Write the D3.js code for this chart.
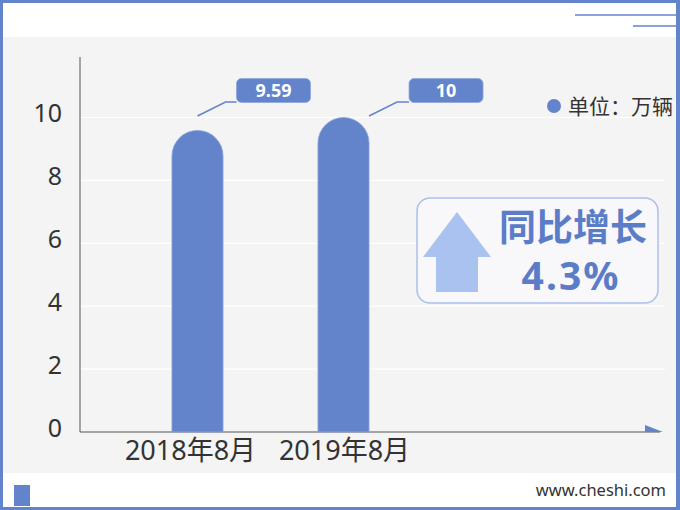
<!DOCTYPE html>
<html><head><meta charset="utf-8">
<script src="https://cdn.jsdelivr.net/npm/d3@7"></script>
<style>html,body{margin:0;padding:0;background:#fff;}svg{display:block;}</style>
</head><body>
<svg id="c" width="680" height="510"></svg>
<script>
const categories = ["2018年8月", "2019年8月"];
const values = [9.59, 10];
const valueLabels = ["9.59", "10"];
const yTicks = [0, 2, 4, 6, 8, 10];
const unitText = "单位：万辆";
const growthTitle = "同比增长";
const growthValue = "4.3%";
const footerText = "www.cheshi.com";

// callout layout (offset of leader start from bar left edge, box offset from leader start)
const calloutLayout = [{sx: 0.5, box: 39}, {sx: 1.0, box: 40}];
// x label horizontal nudges
const xLabelShift = [-7, 1];

const svg = d3.select("#c");
const blue = "#6383cb";
const fontNum = "'Noto Sans','Noto Sans CJK SC',sans-serif";

// frame
svg.append("rect").attr("x",0).attr("y",0).attr("width",680).attr("height",510).attr("fill",blue);
svg.append("rect").attr("x",3).attr("y",3).attr("width",673).attr("height",504).attr("fill","#fff");
svg.append("rect").attr("x",3).attr("y",37).attr("width",673).attr("height",436).attr("fill","#f4f4f4");
svg.append("line").attr("x1",575).attr("x2",677).attr("y1",15).attr("y2",15).attr("stroke",blue).attr("stroke-width",1.5);
svg.append("line").attr("x1",633).attr("x2",677).attr("y1",26).attr("y2",26).attr("stroke",blue).attr("stroke-width",1.5);
svg.append("rect").attr("x",14).attr("y",485).attr("width",16).attr("height",21).attr("fill",blue);
svg.append("text").attr("x",666).attr("y",496).attr("text-anchor","end")
  .attr("font-family",fontNum).attr("font-size",16.5).attr("fill","#333").text(footerText);

// scales
const y = d3.scaleLinear().domain([0,10]).range([432,117.5]);
const x = d3.scaleBand().domain(categories).range([80,461]).paddingInner(0.65).paddingOuter(0.63);

// gridlines
svg.append("g").selectAll("line").data(yTicks.filter(d=>d>0)).join("line")
  .attr("x1",81).attr("x2",665).attr("y1",d=>y(d)).attr("y2",d=>y(d))
  .attr("stroke","#ffffff").attr("stroke-width",1.2);

// y axis labels
const yAxis = d3.axisLeft(y).tickValues(yTicks).tickSize(0).tickPadding(0).tickFormat(d3.format("d"));
const gy = svg.append("g").attr("transform","translate(62,-4)").call(yAxis);
gy.select(".domain").remove();
gy.selectAll("text").attr("font-family",fontNum).attr("font-size",25).attr("fill","#333");

// axis lines
svg.append("line").attr("x1",80).attr("x2",80).attr("y1",57).attr("y2",432).attr("stroke","#555").attr("stroke-width",1);
svg.append("line").attr("x1",80).attr("x2",660).attr("y1",432).attr("y2",432).attr("stroke","#555").attr("stroke-width",1);
svg.append("path").attr("d","M645,425 L663,432 L645,432 Z").attr("fill",blue);

// bars with rounded tops
const data = categories.map((c,i)=>({c, v:values[i], l:valueLabels[i], lay:calloutLayout[i]}));
const bw = x.bandwidth();
svg.append("g").selectAll("path").data(data).join("path")
  .attr("d", d => {
    const x0 = x(d.c), x1 = x0 + bw, top = y(d.v), bot = y(0), r = bw/2;
    return `M${x0},${bot} L${x0},${top+r} A${r},${r} 0 0 1 ${x1},${top+r} L${x1},${bot} Z`;
  })
  .attr("fill", blue).attr("stroke","#8fa6dc").attr("stroke-width",0.8);

// x labels
const xAxis = d3.axisBottom(x).tickSize(0).tickPadding(0);
const gx = svg.append("g").attr("transform","translate(0,441)").call(xAxis);
gx.select(".domain").remove();
gx.selectAll("text").attr("font-family",fontNum).attr("font-size",27).attr("fill","#333").attr("dy","0.71em")
  .attr("dx",(d,i)=>xLabelShift[i]);

// value label callouts
const lbl = svg.append("g").selectAll("g").data(data).join("g");
const sx = d => x(d.c) + bw * d.lay.sx;
lbl.append("polyline")
  .attr("points", d => `${sx(d)},116 ${sx(d)+28},102 ${sx(d)+d.lay.box},102`)
  .attr("fill","none").attr("stroke",blue).attr("stroke-width",1.5);
lbl.append("rect")
  .attr("x", d => sx(d) + d.lay.box).attr("y", 78.5)
  .attr("width",74).attr("height",24).attr("rx",5)
  .attr("fill",blue).attr("stroke","#8fa6dc").attr("stroke-width",0.8);
lbl.append("text")
  .attr("x", d => sx(d) + d.lay.box + 37).attr("y", 90.5)
  .attr("dy","0.36em").attr("text-anchor","middle")
  .attr("font-family",fontNum).attr("font-weight","bold").attr("font-size",18).attr("fill","#fff")
  .text(d=>d.l);

// legend
svg.append("circle").attr("cx",554).attr("cy",106).attr("r",7).attr("fill",blue);
svg.append("text").attr("x",568).attr("y",106).attr("dy","0.36em")
  .attr("font-family","'Noto Sans CJK SC',sans-serif").attr("font-size",21).attr("fill","#333").text(unitText);

// growth box
svg.append("rect").attr("x",417).attr("y",198).attr("width",241).attr("height",105).attr("rx",13)
  .attr("fill","#f8f7fa").attr("stroke","#a9c0ec").attr("stroke-width",1.5);
svg.append("path").attr("d","M457,212 L491,257 L478,257 L478,292 L436,292 L436,257 L423,257 Z").attr("fill","#a9c2ef");
svg.append("text").attr("x",573).attr("y",228).attr("dy","0.36em").attr("text-anchor","middle")
  .attr("font-family","'Noto Sans CJK SC',sans-serif").attr("font-weight","bold").attr("font-size",37).attr("fill","#5b7dc8").text(growthTitle);
svg.append("text").attr("x",571).attr("y",276).attr("dy","0.36em").attr("text-anchor","middle")
  .attr("font-family",fontNum).attr("font-weight","bold").attr("font-size",39).attr("letter-spacing",2).attr("fill","#5b7dc8").text(growthValue);
</script>
</body></html>
